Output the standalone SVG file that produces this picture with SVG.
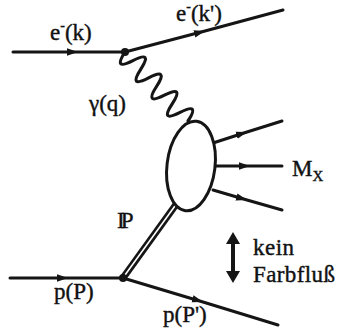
<svg xmlns="http://www.w3.org/2000/svg" width="340" height="333" viewBox="0 0 340 333">
<style>
.ln{fill:none;stroke:#151515;stroke-width:3;stroke-linecap:round;marker-mid:url(#arr)}
.t{font-family:'Liberation Serif','Times New Roman',serif;font-size:23px;fill:#111;stroke:#111;stroke-width:0.4}
</style>
<defs>
<marker id="arr" markerUnits="userSpaceOnUse" markerWidth="14" markerHeight="10" refX="11" refY="5" orient="auto" viewBox="0 0 14 10">
<path d="M0,1.3 L11,5 L0,8.7 z" fill="#151515"/>
</marker>
</defs>
<rect width="340" height="333" fill="#fff"/>
<g id="connectors">
<path class="ln" d="M13,52 L78,52 L125,52"/>
<path class="ln" d="M125,52 L205,31 L283,10"/>
<path d="M125,52 Q112.6,71.1 132.9,60.6 T140.7,69.3 T148.6,77.9 T156.5,86.5 T164.4,95.2 T172.2,103.8 T180.1,112.4 T188,121" fill="none" stroke="#151515" stroke-width="3.2" stroke-linecap="round"/>
<path class="ln" d="M213,143 L247,132 L282,121"/>
<path class="ln" d="M215,166 L250,166 L282,166"/>
<path class="ln" d="M213,190 L247,200 L282,210"/>
<path class="ln" d="M10,278 L68,278 L123,278"/>
<path class="ln" d="M123,278 L203,302 L278,325"/>
<g id="pomeron">
<path d="M123,278 L180,199" stroke="#151515" stroke-width="7" fill="none"/>
<path d="M125,275 L180,199" stroke="#fff" stroke-width="1.6" fill="none"/>
</g>
</g>
<g id="blob">
<ellipse cx="191" cy="166" rx="24" ry="45" transform="rotate(7 191 166)" fill="#fff" stroke="#151515" stroke-width="3"/>
</g>
<g id="vertices">
<circle cx="125" cy="52" r="4" fill="#151515"/>
<circle cx="123" cy="278" r="4" fill="#151515"/>
</g>
<g id="double-arrow">
<path d="M233,240 L233,274" stroke="#151515" stroke-width="4"/>
<path d="M233,232 L240,244 L226,244 z M233,283 L240,271 L226,271 z" fill="#151515"/>
</g>
<g id="labels">
<text class="t" x="50" y="40">e<tspan font-size="14" dy="-10">-</tspan><tspan dy="10">(k)</tspan></text>
<text class="t" x="176" y="21">e<tspan font-size="14" dy="-10">-</tspan><tspan dy="10">(k')</tspan></text>
<text class="t" x="89" y="111">γ(q)</text>
<text class="t" x="117" y="228" font-size="19" letter-spacing="-4">IP</text>
<text class="t" x="292" y="176" font-size="21">M<tspan font-size="15" dy="5">X</tspan></text>
<text class="t" x="54" y="299">p(P)</text>
<text class="t" x="163" y="322">p(P')</text>
<text class="t" x="253" y="255" textLength="41">kein</text>
<text class="t" x="253" y="282" textLength="82">Farbfluß</text>
</g>
</svg>
